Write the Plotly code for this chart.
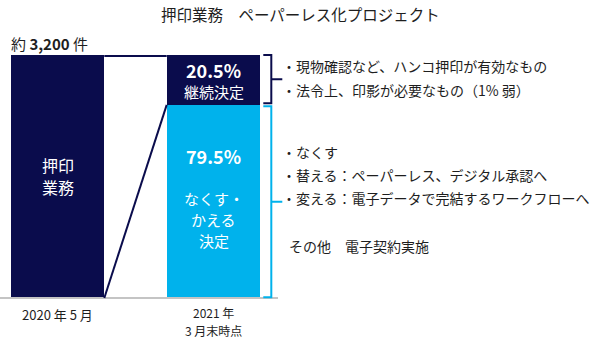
import plotly.graph_objects as go

# ---- data -------------------------------------------------------------
periods = ["2020 年 5 月", "2021 年", "3 月末時点"]
before_total = [100.0]          # 約 3,200 件 = 100%
abolish_share = [79.5]          # なくす・かえる 決定
keep_share = [20.5]             # 継続決定
total_label = "約 <b>3,200</b> 件"
title_text = "押印業務　ペーパーレス化プロジェクト"
keep_notes = [
    "・現物確認など、ハンコ押印が有効なもの",
    "・法令上、印影が必要なもの（1% 弱）",
]
abolish_notes = [
    "・なくす",
    "・替える：ペーパーレス、デジタル承認へ",
    "・変える：電子データで完結するワークフローへ",
]
other_note = "その他　電子契約実施"

# ---- styling ----------------------------------------------------------
NAVY = "#0a0c4c"
BLUE = "#00b2ec"
TEXT = "#1e1e1e"
GRID = "#c4c4c4"
FONT = "Noto Sans CJK JP"

W, H = 600, 339
X0_PX, X_STEP = 57.5, 156.0           # pixel centre of first bar, spacing
BASE_PX, TOP_PX = 298.0, 55.0          # pixel rows of 0 % and 100 %
Y_SCALE = (BASE_PX - TOP_PX) / 100.0
BAR_W = 0.6


def xd(px):
    return (px - X0_PX) / X_STEP


def yd(py):
    return (BASE_PX - py) / Y_SCALE


def xp(x):
    return X0_PX + x * X_STEP


fig = go.Figure()
fig.add_trace(go.Bar(x=[0], y=before_total, width=BAR_W, marker_color=NAVY,
                     marker_line_width=0, hoverinfo="skip"))
fig.add_trace(go.Bar(x=[1], y=abolish_share, width=BAR_W, marker_color=BLUE,
                     marker_line_width=0, hoverinfo="skip"))
fig.add_trace(go.Bar(x=[1], y=keep_share, width=BAR_W, marker_color=NAVY,
                     marker_line_width=0, hoverinfo="skip"))

left_edge_r = 0 + BAR_W / 2
right_edge_l = 1 - BAR_W / 2
right_edge_r = 1 + BAR_W / 2
split = abolish_share[0]
top = split + keep_share[0]

shapes = []
# baseline
shapes.append(dict(type="line", xref="x", yref="y", x0=xd(0), x1=xd(278),
                   y0=0, y1=0, line=dict(color=GRID, width=2)))
# connectors between the two bars
shapes.append(dict(type="line", xref="x", yref="y", x0=left_edge_r, x1=right_edge_l,
                   y0=before_total[0] - 1 / Y_SCALE, y1=before_total[0] - 1 / Y_SCALE,
                   line=dict(color=NAVY, width=2)))
shapes.append(dict(type="line", xref="x", yref="y", x0=left_edge_r, y0=0,
                   x1=right_edge_l, y1=split, line=dict(color=NAVY, width=2)))


def bracket(y_lo, y_hi, color):
    bx0 = xd(xp(right_edge_r) + 3)
    bx1 = xd(xp(right_edge_r) + 11)
    bx2 = xd(xp(right_edge_r) + 22)
    ym = (y_lo + y_hi) / 2
    path = (f"M {bx0},{y_hi} L {bx1},{y_hi} L {bx1},{y_lo} L {bx0},{y_lo} "
            f"M {bx1},{ym} L {bx2},{ym}")
    return dict(type="path", xref="x", yref="y", path=path,
                line=dict(color=color, width=2))


gap = 1.5 / Y_SCALE
shapes.append(bracket(split + gap, top, NAVY))
shapes.append(bracket(0.3, split - gap, BLUE))

ann = []


def label(x, y, s, size, color=TEXT, xanchor="center", xref="x", yref="y"):
    ann.append(dict(x=x, y=y, xref=xref, yref=yref, text=s, showarrow=False,
                    xanchor=xanchor, yanchor="middle", borderpad=0,
                    font=dict(family=FONT, size=size, color=color)))


# title and total
label(xd(300), yd(14), title_text, 15.5)
label(xd(10), yd(43), total_label, 15, xanchor="left")

# labels inside the bars
label(0, yd(165), "押印", 16, "white")
label(0, yd(187), "業務", 16, "white")
label(1, yd(70), f"<b>{keep_share[0]}%</b>", 18, "white")
label(1, yd(91), "継続決定", 15, "white")
label(1, yd(156), f"<b>{abolish_share[0]}%</b>", 18, "white")
label(1, yd(198), "なくす・", 15, "white")
label(1, yd(219), "かえる", 15, "white")
label(1, yd(240), "決定", 15, "white")

# period labels
label(0, yd(314), periods[0], 13)
label(1, yd(312), periods[1], 12)
label(1, yd(330), periods[2], 12)

# notes
for s, py in zip(keep_notes, [66, 90]):
    label(xd(281), yd(py), s, 14, xanchor="left")
for s, py in zip(abolish_notes, [152, 175, 198]):
    label(xd(281), yd(py), s, 14, xanchor="left")
label(xd(288), yd(246), other_note, 14, xanchor="left")

fig.update_layout(
    width=W, height=H, autosize=False,
    margin=dict(l=0, r=0, t=0, b=0, pad=0),
    paper_bgcolor="white", plot_bgcolor="white",
    barmode="stack", bargap=0, showlegend=False,
    shapes=shapes, annotations=ann,
    xaxis=dict(range=[xd(0), xd(W)], visible=False, fixedrange=True),
    yaxis=dict(range=[yd(H), yd(0)], visible=False, fixedrange=True),
    font=dict(family=FONT, color=TEXT),
)

fig.write_html("out.html", config={"displayModeBar": False},
               post_script="document.body.style.margin='0';")
